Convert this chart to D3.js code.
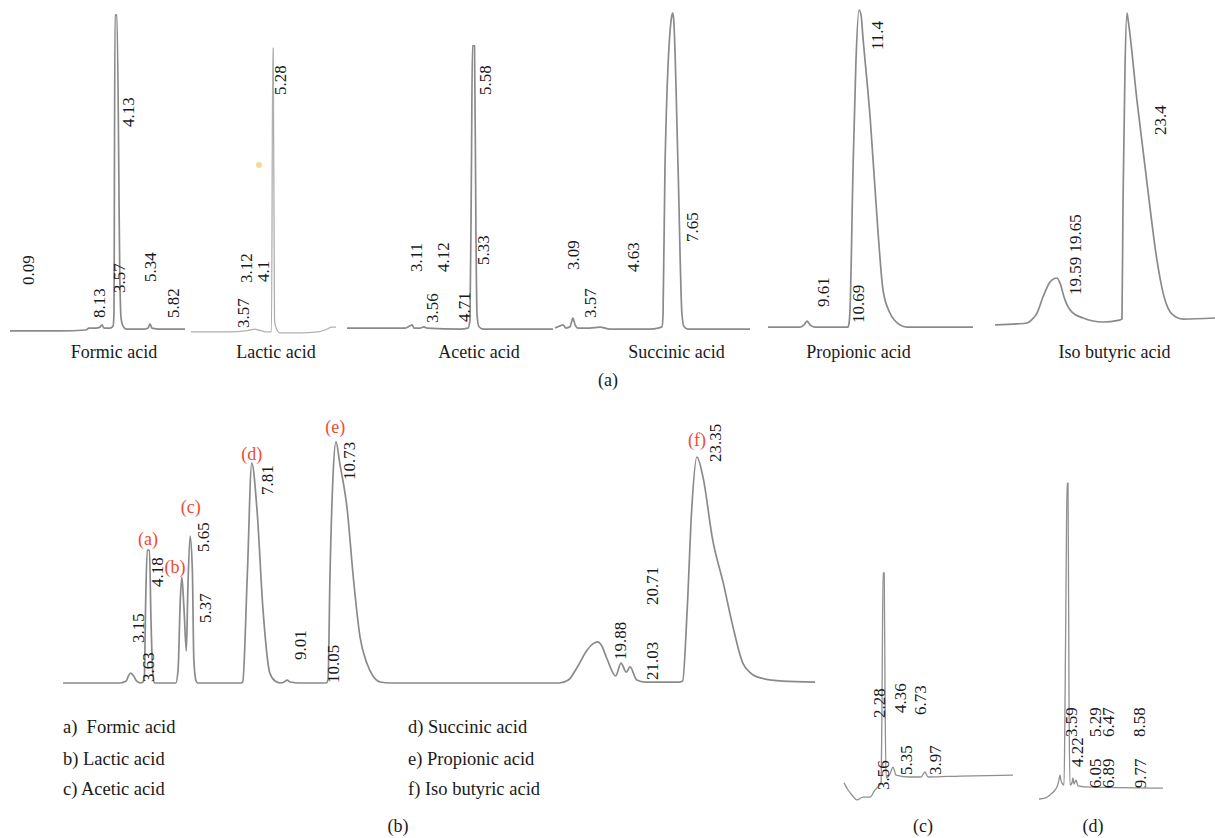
<!DOCTYPE html>
<html><head><meta charset="utf-8">
<script src="https://cdn.jsdelivr.net/npm/d3@7"></script>
<style>html,body{margin:0;background:#fff}svg{display:block}</style>
</head><body>
<svg id="chart" width="1215" height="838"></svg>
<script>
// ---------- DATA (x: relative retention position 0-100 within each chromatogram, y: signal % of full scale) ----------
const acidNames = ["Formic acid", "Lactic acid", "Acetic acid", "Succinic acid", "Propionic acid", "Iso butyric acid"];
const acidNameAt = [59.4, 58.6, 64.1, 62.3, 44.1, 54.3];

const formicTrace = [[0,-0.3],[28.6,-0.3],[43.4,0],[45.1,0.6],[49.1,0.6],[51.4,0.9],[52.6,1.6],[53.7,0.6],[57.1,0.6],[58.9,1.2],[59.4,5],[60.0,98.4],[61.1,98.4],[62.9,12.5],[63.4,4],[64.6,1.2],[66.3,0.3],[77.1,0.3],[78.9,0.6],[80.0,1.9],[81.1,0.6],[85.7,0.3],[100,0.3]];
const lacticTrace = [[0,-0.6],[26.9,-0.6],[37.2,-0.3],[40.7,0],[44.1,0.3],[46.2,0],[49.0,-0.3],[51.7,-0.6],[55.5,-0.6],[56.4,88.1],[56.7,88.1],[57.6,3],[59.3,0],[61.4,-0.9],[75.2,-0.9],[87.6,-0.6],[92.4,0],[95.2,0.6],[96.6,0.9],[100,0.9]];
const lacticSpot = [[46.9, 51.6]];
const aceticTrace = [[0,0.6],[28.2,0.6],[30.6,1.3],[31.6,1.6],[32.5,0.6],[35.4,0.6],[37.4,1.0],[38.8,0.6],[54.9,0.3],[58.7,0.6],[59.7,3],[60.4,50],[60.9,88.8],[61.9,88.8],[62.6,30],[63.1,5],[64.1,1],[66.0,0.3],[100,0.3]];
const succinicTrace = [[0,0.6],[2.6,1.3],[4.1,1.6],[5.6,0.6],[7.7,1.0],[9.2,3.75],[10.3,1.6],[11.8,0.6],[17.9,0.6],[23.1,0.9],[28.2,0.3],[48.7,0.3],[52.8,0.6],[54.9,1],[55.4,5],[56.4,51],[59.7,97.5],[60.3,99],[60.8,97.5],[63.1,51],[65.1,5],[66.2,1],[68.2,0.3],[100,0.3]];
const propionicTrace = [[0,0.9],[15.6,0.9],[17.6,1.6],[19.0,2.8],[20.5,1.6],[22.9,0.9],[39.0,0.9],[39.5,2],[40.0,6.25],[41.5,51],[42.9,84],[44.4,100],[45.4,98.4],[46.3,91.6],[49.8,66.6],[53.7,30.3],[56.1,12.5],[59.5,5.3],[64.4,1.6],[67.8,0.9],[100,0.9]];
const isoTrace = [[0,1.6],[10,1.9],[14.5,2.2],[17,3.4],[19.1,5.3],[21.8,10.3],[25,15],[27,16.1],[28.2,16.25],[29.5,14.7],[31.8,9.4],[33.5,6.9],[35,5.6],[40,3.75],[49.1,2.5],[56,3.0],[57.7,3.4],[58.2,40.6],[59.1,82.2],[60,99],[60.5,96.9],[64.5,71.9],[69.1,45.9],[73.6,21.9],[76.4,11.6],[78.8,6.6],[80.9,4.7],[85.5,3.4],[100,3.75]];

const formicPeaks = [["0.09",10.3,14.1],["8.13",50.9,3.75],["3.57",62.3,11.6],["4.13",67.4,63.4],["5.34",80,15],["5.82",93.1,3.75]];
const lacticPeaks = [["5.28",61.4,73.4],["3.12",37.9,14.7],["4.1",49.7,15],["3.57",35.9,0.6]];
const aceticPeaks = [["3.11",33.5,18.1],["4.12",46.6,18.1],["3.56",41.3,2.2],["4.71",56.8,2.5],["5.58",67.0,73.4],["5.33",66.0,20.3]];
const succinicPeaks = [["3.09",9.2,18.75],["3.57",17.9,3.75],["4.63",40,18.1],["7.65",70.3,27.5]];
const propionicPeaks = [["9.61",26.8,7.2],["10.69",43.9,2.2],["11.4",53.2,87.5]];
const isoPeaks = [["19.59 19.65",36.4,10.9],["23.4",75,60.9]];

const mixTrace = [[0,0],[7.6,0],[8.4,0.8],[8.7,2.9],[9.0,4.1],[9.4,2.9],[9.8,0.8],[10.4,0],[10.8,1.2],[11.0,34.2],[11.2,54.7],[11.5,54.7],[11.7,25.9],[12.0,2.1],[12.2,0],[15.0,0],[15.3,5.3],[15.6,34.2],[15.8,43.6],[16.1,30],[16.4,13.2],[16.6,38.3],[16.9,60.5],[17.2,46.5],[17.4,9.5],[17.7,0.8],[17.9,0],[23.7,0],[23.9,0.4],[24.5,43.6],[25.1,90.5],[25.8,71.2],[26.6,30],[27.5,4.1],[28.2,0.8],[28.9,0],[29.4,0.4],[29.8,1.2],[30.2,0.4],[31.5,0],[35.0,0],[35.24,1.2],[35.5,43.6],[35.9,84.8],[36.3,99.2],[36.8,90.5],[37.8,71.2],[38.6,43.6],[39.5,18.9],[40.4,8.2],[41.2,3.0],[42.2,0.4],[43.5,0],[66.0,0],[67.2,1.2],[68.4,6.6],[69.7,13.6],[70.5,16.2],[71.1,16.9],[71.6,15.5],[72.3,10.3],[73.5,2.9],[74.2,8.2],[74.9,4.5],[75.4,6.6],[76.3,1.2],[77.4,0.4],[82.0,0.4],[82.4,0.8],[83.0,30],[83.6,71.2],[84.3,93],[85.1,84.8],[86.4,58.8],[87.8,41.2],[89.1,23],[90.4,8.2],[91.3,4.5],[92.3,2.5],[95.7,0.8],[100,0.4]];
const mixPeaks = [["3.15",10.0,16.5],["3.63",11.3,0.4],["4.18",12.5,39.5],["5.65",18.6,53.9],["5.37",18.9,24.7],["7.81",27.1,77.4],["9.01",31.5,9.5],["10.05",35.9,0],["10.73",38.0,83.5],["19.88",74.1,9.5],["20.71",78.3,32.1],["21.03",78.3,1.2],["23.35",86.7,90.9]];
const mixMarkers = [["(a)",11.3,56.8],["(b)",14.9,45.3],["(c)",17.0,70],["(d)",25.1,91.8],["(e)",36.2,102.9],["(f)",84.3,97.5]];
const legendLeft = ["a)  Formic acid", "b) Lactic acid", "c) Acetic acid"];
const legendRight = ["d) Succinic acid", "e) Propionic acid", "f) Iso butyric acid"];

const sampleCTrace = [[0,2.3],[2.4,0],[4.7,-1.6],[7.7,-3.2],[11.2,-2.3],[15.4,-2.3],[18.3,0],[20.1,1.0],[21.9,2.3],[22.5,29],[23.1,70],[23.8,70],[24.3,29],[24.9,3.9],[27.2,5.2],[29.0,7.4],[30.8,4.8],[39.1,4.2],[45.6,4.2],[47.9,5.8],[49.7,4.2],[68.6,4.5],[100,4.8]];
const sampleCPeaks = [["2.28",20.7,23.2],["4.36",33.1,24.8],["6.73",45.0,24.2],["3.56",23.1,0],["5.35",36.7,4.8],["3.97",53.8,4.8]];
const sampleDTrace = [[0,-2.9],[4.8,-2.6],[8.9,-1.6],[12.9,0],[14.5,1.0],[16.1,3.2],[16.9,4.8],[17.7,3.2],[18.5,2.3],[20.2,1.6],[21.0,29],[21.8,65.5],[22.6,99],[23.4,99],[24.2,29],[25.0,1.6],[26.6,2.3],[27.4,3.9],[28.2,1.9],[29.8,3.2],[31.5,1.3],[37.1,1.0],[100,0.6]];
const sampleDPeaks = [["3.59",25.8,17.1],["4.22",30.6,7.4],["5.29",45.2,17.1],["6.47",55.6,17.1],["8.58",80.6,17.1],["6.05",45.2,0.6],["6.89",55.6,0.6],["9.77",81.5,0.6]];

const panelCaptions = ["(a)", "(b)", "(c)", "(d)"];

// ---------- LAYOUT ----------
const layout = {
  top: [[10,185],[191,336],[347,553],[555,750],[768,973],[995,1215]],
  topY: [330, 10],
  nameY: 358,
  mix: {x: [63,815], y: [683,440]},
  c: {x: [844,1013], y: [790,480]},
  d: {x: [1039,1163], y: [790,480]},
  captionPos: [[608,386],[398,832],[923,832],[1093,832]],
  legendX: [63, 408],
  legendY: [733, 765, 795]
};

const FONT = "'Liberation Serif','Times New Roman',serif";
const svg = d3.select("#chart").style("font-family", FONT);

function drawTrace(xr, yr, trace, peaks, opts = {}) {
  const x = d3.scaleLinear().domain([0, 100]).range(xr);
  const y = d3.scaleLinear().domain([0, 100]).range(yr);
  const g = svg.append("g");
  g.append("path")
    .datum(trace)
    .attr("d", d3.line().curve(d3.curveMonotoneX).x(d => x(d[0])).y(d => y(d[1])))
    .attr("fill", "none")
    .attr("stroke", opts.color || "#8a8a8a")
    .attr("stroke-width", opts.width || 1.7)
    .attr("stroke-linejoin", "round");
  g.selectAll("text.pk").data(peaks).join("text")
    .attr("class", "pk")
    .attr("transform", d => `translate(${x(d[1])},${y(d[2])}) rotate(-90)`)
    .attr("dy", "0.35em")
    .attr("font-size", 17)
    .attr("font-family", FONT)
    .attr("fill", "#1a1a1a")
    .text(d => d[0]);
  return {x, y, g};
}

// (a) standards
const topTraces = [formicTrace, lacticTrace, aceticTrace, succinicTrace, propionicTrace, isoTrace];
const topPeaks = [formicPeaks, lacticPeaks, aceticPeaks, succinicPeaks, propionicPeaks, isoPeaks];
topTraces.forEach((tr, i) => {
  const opts = i === 1 ? {color: "#b0b0b0", width: 1.3} : {};
  const p = drawTrace(layout.top[i], layout.topY, tr, topPeaks[i], opts);
  p.g.append("text")
    .attr("x", p.x(acidNameAt[i]))
    .attr("y", layout.nameY)
    .attr("text-anchor", "middle")
    .attr("font-size", 18)
    .attr("font-family", FONT)
    .attr("fill", "#1a1a1a")
    .text(acidNames[i]);
  if (i === 1) {
    p.g.selectAll("circle").data(lacticSpot).join("circle")
      .attr("cx", d => p.x(d[0])).attr("cy", d => p.y(d[1]))
      .attr("r", 3).attr("fill", "#f1dc95");
  }
});

// (b) mixture
const mix = drawTrace(layout.mix.x, layout.mix.y, mixTrace, mixPeaks);
mix.g.selectAll("text.mk").data(mixMarkers).join("text")
  .attr("class", "mk")
  .attr("x", d => mix.x(d[1]))
  .attr("y", d => mix.y(d[2]))
  .attr("text-anchor", "middle")
  .attr("font-size", 18)
  .attr("font-family", FONT)
  .attr("fill", "#ef4a33")
  .text(d => d[0]);

[legendLeft, legendRight].forEach((col, ci) => {
  svg.append("g").selectAll("text").data(col).join("text")
    .attr("x", layout.legendX[ci])
    .attr("y", (d, i) => layout.legendY[i])
    .attr("font-size", 18.5)
    .attr("font-family", FONT)
    .attr("fill", "#1a1a1a")
    .style("white-space", "pre")
    .text(d => d);
});

// (c), (d) samples
drawTrace(layout.c.x, layout.c.y, sampleCTrace, sampleCPeaks, {color: "#8f8f8f", width: 1.3});
drawTrace(layout.d.x, layout.d.y, sampleDTrace, sampleDPeaks, {color: "#8f8f8f", width: 1.3});

// panel captions
svg.append("g").selectAll("text").data(panelCaptions).join("text")
  .attr("x", (d, i) => layout.captionPos[i][0])
  .attr("y", (d, i) => layout.captionPos[i][1])
  .attr("text-anchor", "middle")
  .attr("font-size", 18)
  .attr("font-family", FONT)
  .attr("fill", "#1a1a1a")
  .text(d => d);
</script>
</body></html>
